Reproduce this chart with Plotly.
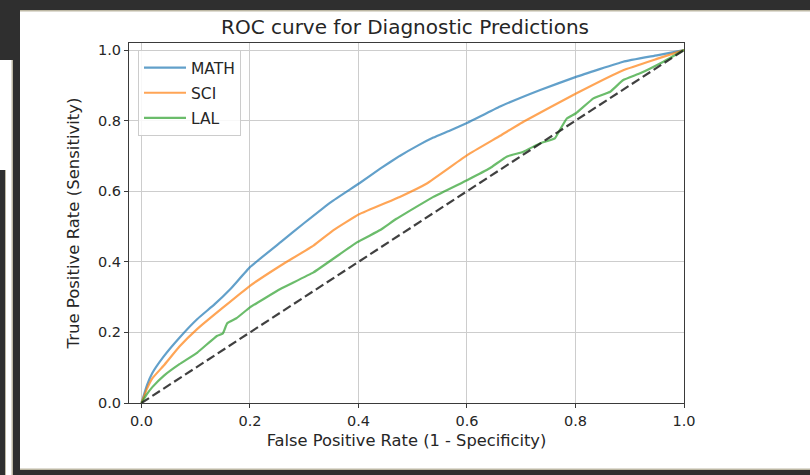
import plotly.graph_objects as go

# ---------------- data ----------------
series_names = ["MATH", "SCI", "LAL"]

math_fpr = [0.0, 0.01, 0.02, 0.04, 0.07, 0.103, 0.135, 0.164, 0.2, 0.256, 0.3, 0.35, 0.401, 0.44, 0.476, 0.51, 0.538, 0.57, 0.601, 0.661, 0.735, 0.801, 0.888, 0.95, 1.0]
math_tpr = [0.0, 0.05, 0.085, 0.13, 0.185, 0.238, 0.28, 0.323, 0.385, 0.455, 0.51, 0.57, 0.622, 0.664, 0.700, 0.730, 0.752, 0.773, 0.794, 0.84, 0.887, 0.924, 0.967, 0.985, 1.0]

sci_fpr = [0.0, 0.01, 0.02, 0.041, 0.07, 0.103, 0.15, 0.2, 0.256, 0.317, 0.354, 0.401, 0.476, 0.526, 0.601, 0.661, 0.704, 0.801, 0.888, 0.95, 1.0]
sci_tpr = [0.0, 0.04, 0.07, 0.106, 0.16, 0.21, 0.27, 0.332, 0.389, 0.446, 0.49, 0.535, 0.584, 0.622, 0.703, 0.757, 0.797, 0.877, 0.943, 0.975, 1.0]

lal_fpr = [0.0, 0.01, 0.02, 0.041, 0.07, 0.103, 0.139, 0.15, 0.158, 0.175, 0.2, 0.256, 0.317, 0.397, 0.44, 0.47, 0.538, 0.601, 0.642, 0.673, 0.704, 0.735, 0.762, 0.771, 0.784, 0.801, 0.833, 0.864, 0.888, 0.919, 0.962, 1.0]
lal_tpr = [0.0, 0.025, 0.045, 0.077, 0.11, 0.143, 0.19, 0.197, 0.226, 0.24, 0.271, 0.323, 0.37, 0.455, 0.49, 0.522, 0.584, 0.632, 0.665, 0.698, 0.712, 0.736, 0.75, 0.773, 0.806, 0.821, 0.863, 0.882, 0.915, 0.934, 0.967, 1.0]

chance_x = [0.0, 1.0]
chance_y = [0.0, 1.0]

tick_vals = [0.0, 0.2, 0.4, 0.6, 0.8, 1.0]
tick_text = ["0.0", "0.2", "0.4", "0.6", "0.8", "1.0"]

title_text = "ROC curve for Diagnostic Predictions"
x_title = "False Positive Rate (1 - Specificity)"
y_title = "True Positive Rate (Sensitivity)"

# ---------------- styling ----------------
colors = ["rgba(31,119,180,0.7)", "rgba(255,127,14,0.7)", "rgba(44,160,44,0.7)"]
FONT = "DejaVu Sans"
TXT = "#262626"

W, H = 810, 475
L, R, T, B = 129, 126, 43, 72
PW, PH = W - L - R, H - T - B


def px(x):
    return (x - L) / PW


def py(y):
    return (H - B - y) / PH


fig = go.Figure()
for name, xs, ys, c in zip(series_names, [math_fpr, sci_fpr, lal_fpr], [math_tpr, sci_tpr, lal_tpr], colors):
    fig.add_trace(go.Scatter(x=xs, y=ys, mode="lines", name=name, legendgroup=name,
                             line=dict(color=c, width=2.2, shape="spline", smoothing=0.3)))

fig.add_trace(go.Scatter(x=chance_x, y=chance_y, mode="lines", showlegend=False,
                         line=dict(color="rgba(30,30,30,0.85)", width=2.2, dash="9px,4px")))

axis_common = dict(
    showgrid=True, gridcolor="#cdcdcd", gridwidth=1.2,
    showline=True, linecolor="#3a3a3a", linewidth=1.2, mirror=True,
    ticks="outside", ticklen=4, tickwidth=1, tickcolor="#3a3a3a",
    tickvals=tick_vals, ticktext=tick_text,
    tickfont=dict(family=FONT, size=14.5, color=TXT),
    zeroline=False,
)

fig.update_xaxes(range=[-0.023, 1.0], title=dict(text=x_title, font=dict(family=FONT, size=16.3, color=TXT), standoff=7),
                 **axis_common)
fig.update_yaxes(range=[0.0, 1.02], title=dict(text=y_title, font=dict(family=FONT, size=16.5, color=TXT), standoff=14),
                 **axis_common)

shapes = []
dark = "#2f2f2f"
edge = "#bdb8a4"


def rect(x0, y0, x1, y1, color):
    shapes.append(dict(type="rect", xref="paper", yref="paper", x0=px(x0), x1=px(x1), y0=py(y0), y1=py(y1),
                       fillcolor=color, line=dict(width=0), layer="above"))


rect(0, 0, 810, 10, dark)
rect(0, 10, 810, 11.5, edge)
rect(11.5, 10, 13, 475, edge)
rect(13, 0, 20, 475, dark)
rect(0, 0, 13, 60, dark)
rect(0, 170, 5, 475, dark)
rect(5, 170, 6, 475, edge)
rect(20, 468.5, 810, 470, edge)
rect(13, 470, 810, 475, dark)

fig.update_layout(
    width=W, height=H,
    margin=dict(l=L, r=R, t=T, b=B, autoexpand=False),
    paper_bgcolor="white", plot_bgcolor="white",
    title=dict(text=title_text, x=px(406.5), xanchor="center", y=1 - 27 / H, yanchor="middle",
               font=dict(family=FONT, size=20, color=TXT)),
    legend=dict(x=px(138), y=py(50), xanchor="left", yanchor="top",
                bgcolor="rgba(255,255,255,0.85)", bordercolor="#cccccc", borderwidth=1,
                font=dict(family=FONT, size=15.5, color=TXT), tracegroupgap=2, traceorder="grouped",
                itemwidth=42),
    shapes=shapes,
    showlegend=True,
)

fig.write_html("out.html", config={"displayModeBar": False},
               post_script="document.body.style.margin='0';document.body.style.overflow='hidden';")
